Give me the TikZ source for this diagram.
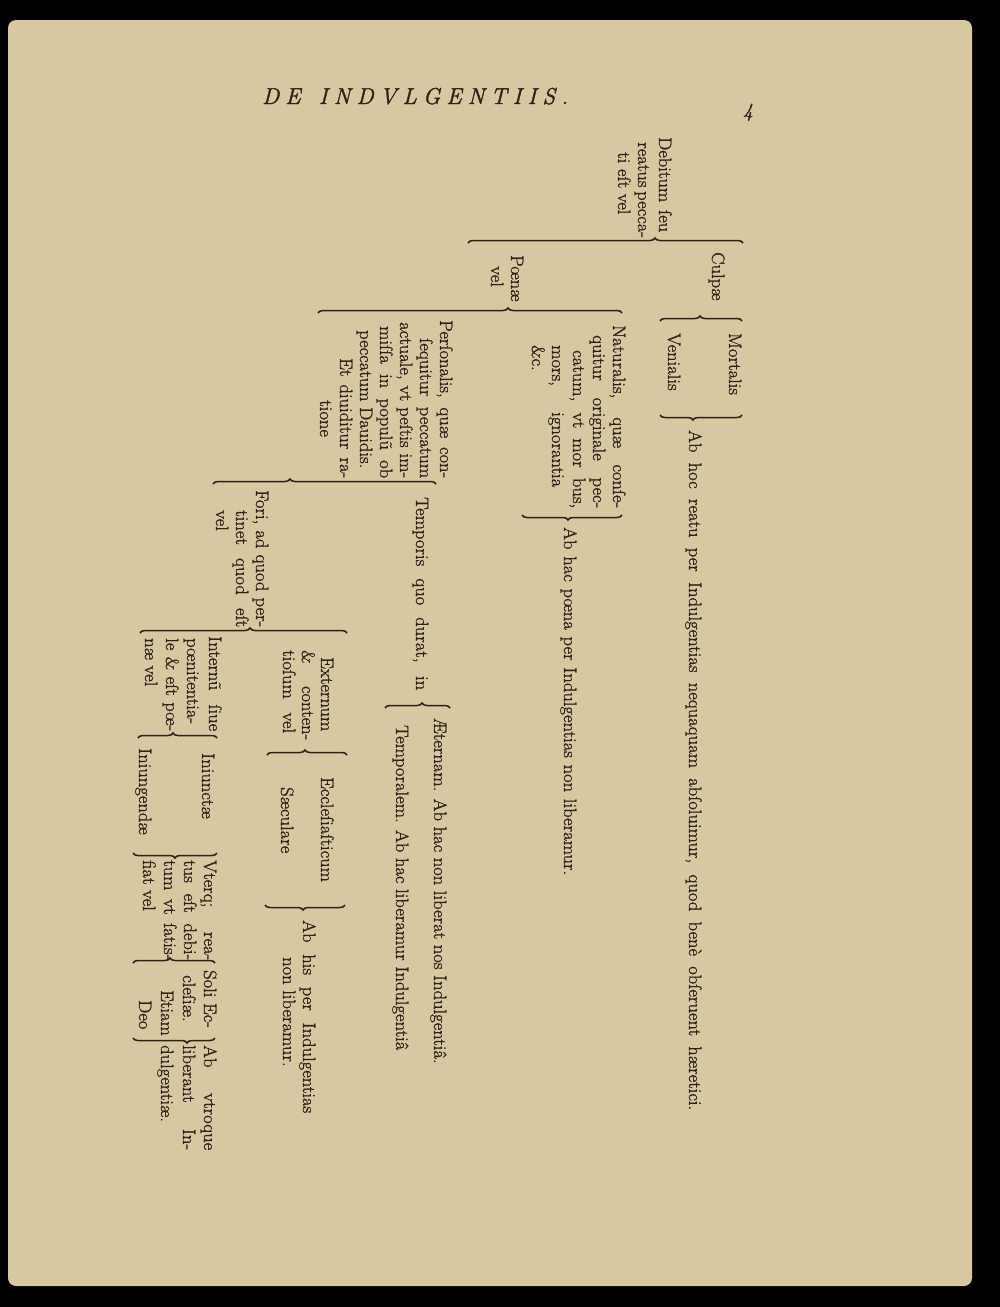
\documentclass[tikz,border=0pt]{standalone}
\usepackage{fontspec}
\usetikzlibrary{decorations.pathreplacing}
\newfontfamily\oldrm{Latin Modern Roman}[FakeStretch=1.03,FakeBold=1.2]
\newfontfamily\hdrm{Latin Modern Roman}[FakeBold=1.5]
\definecolor{paper}{HTML}{D8C8A2}
\definecolor{ink}{HTML}{2E2118}
\newcommand\bodyfs{\oldrm\fontsize{18pt}{20pt}\selectfont}
\newcommand\TL[4]{\node[txt,anchor=base west] (#1) at ({#2-4},#3) {#4};}
\newcommand\TJ[5]{\node[txt,anchor=base west] (#1) at ({#2-4},#3) {\makebox[\dimexpr #4pt-#3pt\relax][s]{#5}};}
\newcommand\SplitBrace[5]{%
  \coordinate (#1a) at (#2,#4);
  \coordinate (#1b) at (#3,#4);
  \pgfmathsetmacro\asp{(#5-#2)/(#3-#2)}
  \draw[brc,decoration={brace,amplitude=5pt,aspect=\asp}] (#1a) -- (#1b);}
\newcommand\MergeBrace[5]{%
  \coordinate (#1a) at (#3,#4);
  \coordinate (#1b) at (#2,#4);
  \pgfmathsetmacro\asp{(#3-#5)/(#3-#2)}
  \draw[brc,decoration={brace,amplitude=5pt,aspect=\asp}] (#1a) -- (#1b);}
\begin{document}
\begin{tikzpicture}[x=1pt,y=-1pt,
  txt/.style={rotate=-90,inner sep=0pt,font=\bodyfs,text=ink},
  brc/.style={draw=ink,line width=1.5pt,decorate}]
\fill[black] (0,0) rectangle (1000,1307);
\fill[paper,rounded corners=8pt] (8,20) rectangle (972,1286);
\useasboundingbox (0,0) rectangle (1000,1307);
% header
\node[anchor=base west,inner sep=0pt,text=ink,font=\hdrm\fontsize{23pt}{26pt}\selectfont\itshape] (title) at (262,104)
  {\makebox[306pt][s]{D E \ \ I N D V L G E N T I I S .}};
\node[anchor=base,inner sep=0pt,text=ink,font=\hdrm\fontsize{20pt}{22pt}\selectfont\itshape] (pg) at (748,117) {4};
% root
\TJ{r1}{663}{137}{232}{Debitum ſeu}
\TJ{r2}{642}{142}{232}{reatus pecca-}
\TL{r3}{622}{152}{ti eſt vel}
\SplitBrace{B0}{468}{743}{243}{655}
% culpa
\TL{cu}{716}{252}{Culpæ}
\SplitBrace{B1}{660}{742}{321}{700}
\TL{mo}{733}{333}{Mortalis}
\TL{ve}{672}{333}{Venialis}
\MergeBrace{B2}{660}{742}{415}{693}
\TJ{abhoc}{693}{430}{1110}{Ab hoc reatu per Indulgentias nequaquam abſoluimur, quod benè obſeruent hæretici.}
% poena
\TL{po1}{515}{255}{Pœnæ}
\TL{po2}{495}{266}{vel}
\SplitBrace{B3}{318}{622}{313}{508}
% naturalis
\TJ{na1}{617}{325}{508}{Naturalis, quæ conſe-}
\TJ{na2}{597}{335}{508}{quitur originale pec-}
\TJ{na3}{577}{350}{508}{catum, vt mor bus,}
\TJ{na4}{556}{345}{487}{mors, ignorantia}
\TL{na5}{536}{345}{\&c.}
\MergeBrace{B4}{522}{622}{515}{568}
\TJ{abhac}{568}{527}{875}{Ab hac pœna per Indulgentias non liberamur.}
% personalis
\TJ{pe1}{444}{320}{478}{Perſonalis, quæ con-}
\TJ{pe2}{424}{338}{478}{ſequitur peccatum}
\TJ{pe3}{404}{322}{478}{actuale, vt peſtis im-}
\TJ{pe4}{384}{326}{478}{miſſa in populũ ob}
\TL{pe5}{364}{330}{peccatum Dauidis.}
\TJ{pe6}{344}{358}{478}{Et diuiditur ra-}
\TL{pe7}{324}{400}{tione}
\SplitBrace{B5}{213}{436}{484}{290}
% temporis
\TJ{te}{420}{497}{690}{Temporis quo durat, in}
\SplitBrace{B6}{385}{450}{708}{422}
\TL{ae}{438}{718}{Æternam. Ab hac non liberat nos Indulgentiâ.}
\TL{tp}{400}{725}{Temporalem. Ab hac liberamur Indulgentiâ}
% fori
\TJ{fo1}{260}{490}{627}{Fori, ad quod per-}
\TJ{fo2}{240}{510}{627}{tinet quod eſt}
\TL{fo3}{220}{510}{vel}
\SplitBrace{B7}{140}{347}{633}{250}
% externum
\TL{ex1}{325}{657}{Externum}
\TJ{ex2}{306}{650}{740}{\& conten-}
\TJ{ex3}{287}{650}{733}{tioſum vel}
\SplitBrace{B8}{267}{347}{755}{305}
\TL{ec}{325}{777}{Eccleſiaſticum}
\TL{sa}{285}{787}{Sæculare}
\MergeBrace{B9}{265}{345}{905}{303}
\TJ{ah1}{307}{920}{1113}{Ab his per Indulgentias}
\TL{ah2}{287}{957}{non liberamur.}
% internum
\TJ{in1}{213}{636}{731}{Internũ ſiue}
\TL{in2}{191}{638}{pœnitentia-}
\TJ{in3}{170}{638}{731}{le \& eſt pœ-}
\TL{in4}{149}{638}{næ vel}
\SplitBrace{B10}{138}{217}{738}{173}
\TL{ij1}{206}{753}{Iniunctæ}
\TL{ij2}{143}{748}{Iniungendæ}
\MergeBrace{B11}{133}{217}{853}{175}
\TJ{vt1}{208}{860}{960}{Vterq; rea-}
\TJ{vt2}{188}{860}{960}{tus eſt debi-}
\TJ{vt3}{168}{860}{960}{tum vt ſatis-}
\TL{vt4}{147}{860}{fiat vel}
\SplitBrace{B12}{133}{215}{963}{170}
\TL{so1}{208}{970}{Soli Ec-}
\TL{so2}{187}{975}{cleſiæ.}
\TL{et1}{165}{990}{Etiam}
\TL{et2}{143}{1000}{Deo}
\MergeBrace{B13}{133}{215}{1038}{187}
\TJ{av1}{208}{1045}{1150}{Ab vtroque}
\TJ{av2}{187}{1045}{1150}{liberant In-}
\TL{av3}{165}{1045}{dulgentiæ.}
\end{tikzpicture}
\end{document}
